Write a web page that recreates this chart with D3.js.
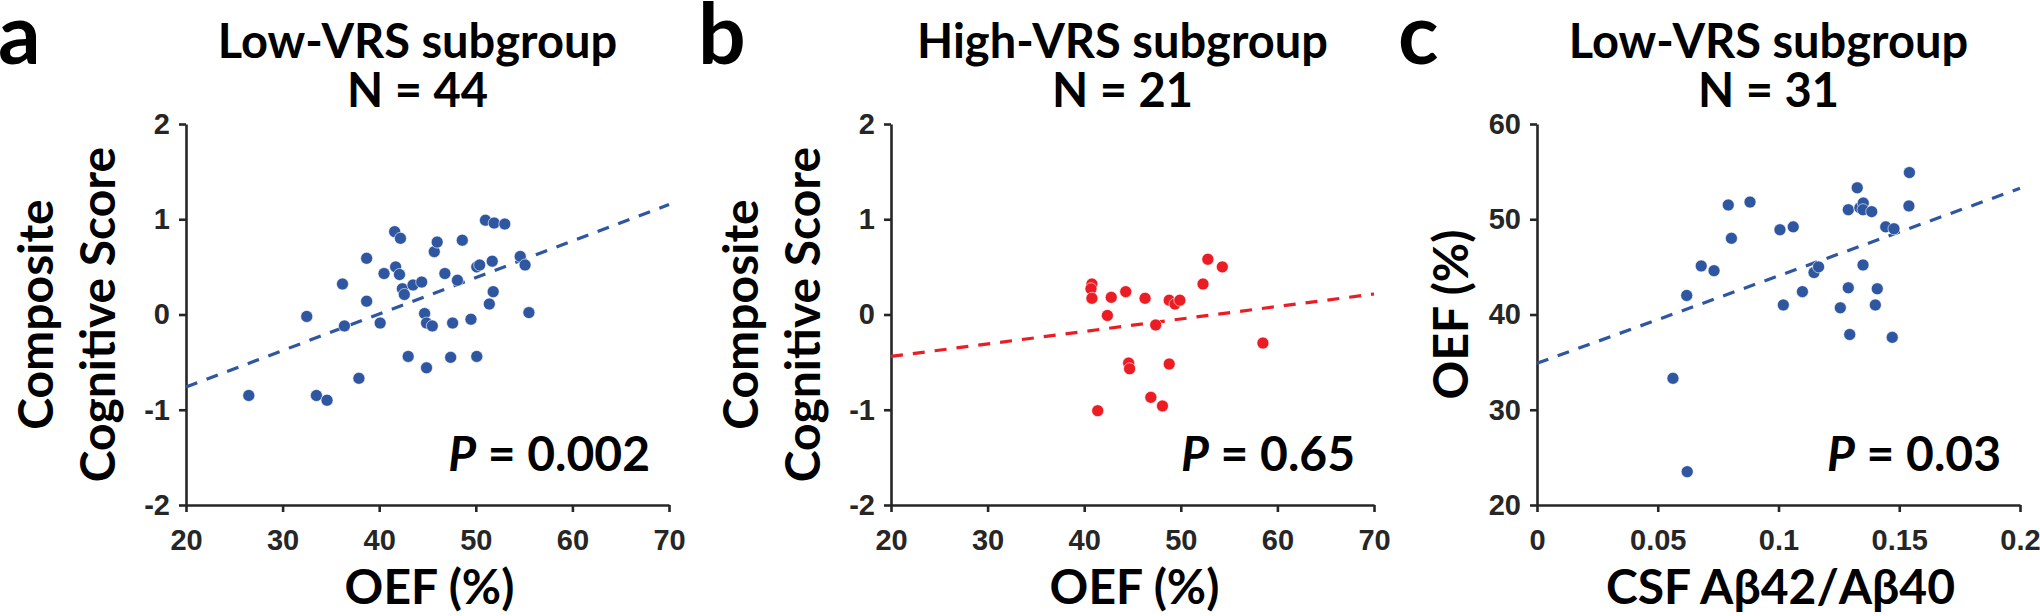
<!DOCTYPE html>
<html><head><meta charset="utf-8">
<script src="https://cdn.jsdelivr.net/npm/d3@7"></script>
<style>body{margin:0;background:#fff} svg{display:block}</style>
</head><body>
<svg id="chart" width="2040" height="616"></svg>
<script>
// ---------- data ----------
const oefA = [26.5,32.5,33.5,34.6,36.2,36.4,37.9,38.7,38.7,40.1,40.5,41.6,42.2,41.7,42.1,42.4,42.6,43.5,44.4,43.0,44.9,44.7,44.9,45.5,45.7,46.0,46.8,47.6,47.4,48.1,48.6,49.5,50.1,50.1,50.4,51.0,51.9,53.0,51.7,51.8,51.4,54.6,55.1,55.5];
const scoreA = [-0.85,-0.02,-0.85,-0.90,0.32,-0.12,-0.67,0.59,0.14,-0.09,0.43,0.87,0.80,0.50,0.42,0.27,0.21,0.31,0.34,-0.44,-0.56,0.01,-0.09,-0.12,0.66,0.76,0.43,-0.09,-0.45,0.36,0.78,-0.05,-0.44,0.50,0.52,0.99,0.96,0.95,0.56,0.24,0.11,0.61,0.52,0.02];
const oefB = [40.8,40.7,40.8,42.4,42.8,41.4,44.3,44.6,44.7,46.3,47.4,46.9,48.1,48.8,49.4,49.9,48.8,52.3,52.8,54.3,58.5];
const scoreB = [0.32,0.27,0.17,-0.01,0.18,-1.01,0.24,-0.51,-0.57,0.17,-0.11,-0.87,-0.96,0.15,0.11,0.15,-0.52,0.32,0.58,0.50,-0.30];
const csfC = [0.0563,0.0622,0.0620,0.0680,0.0733,0.0792,0.0805,0.0882,0.1006,0.1020,0.1061,0.1099,0.1147,0.1166,0.1256,0.1289,0.1289,0.1295,0.1326,0.1337,0.1351,0.1350,0.1350,0.1386,0.1409,0.1401,0.1444,0.1478,0.1471,0.1542,0.1540];
const oefC = [33.3,23.5,42.0,45.1,44.6,51.5,48.0,51.8,48.9,41.0,49.2,42.4,44.4,45.0,40.7,51.0,42.8,37.9,53.3,51.2,51.7,51.0,45.2,50.8,42.7,41.0,49.2,49.0,37.6,54.9,51.4];
const fitSlopes = [0.0383, 0.0131, 91.9];
const fitIntercepts = [-1.527, -0.702, 34.87];
const xTicksOEF = [20,30,40,50,60,70];
const yTicksScore = [-2,-1,0,1,2];
const xTicksCSF = [0,0.05,0.1,0.15,0.2];
const yTicksOEF = [20,30,40,50,60];
const panelLetters = ["a","b","c"];
const titles = ["Low-VRS subgroup","High-VRS subgroup","Low-VRS subgroup"];
const nLabels = ["N = 44","N = 21","N = 31"];
const pValues = ["0.002","0.65","0.03"];
const xTitles = ["OEF (%)","OEF (%)","CSF A\u03b242/A\u03b240"];
const yTitles = [["Composite","Cognitive Score"],["Composite","Cognitive Score"],["OEF (%)"]];

// ---------- layout ----------
const panels = [
  {ox:0,    left:186,  xs:oefA, ys:scoreA, xDom:[20,70], yDom:[-2,2], xT:xTicksOEF, yT:yTicksScore, color:"#2F56A0"},
  {ox:700,  left:891,  xs:oefB, ys:scoreB, xDom:[20,70], yDom:[-2,2], xT:xTicksOEF, yT:yTicksScore, color:"#EC1C24"},
  {ox:1400, left:1537, xs:csfC, ys:oefC,  xDom:[0,0.2], yDom:[20,60], xT:xTicksCSF, yT:yTicksOEF,  color:"#2F56A0"}
];
const W = 483, TOP = 124, BOT = 505;
const svg = d3.select("#chart");
const titleFont = "Lato, 'Open Sans', sans-serif";
const tickFont = "'Liberation Sans', Arial, sans-serif";

panels.forEach((p, i) => {
  const x = d3.scaleLinear().domain(p.xDom).range([p.left, p.left + W]);
  const y = d3.scaleLinear().domain(p.yDom).range([BOT, TOP]);
  const g = svg.append("g");

  // axes
  const ax = g.append("g").attr("transform", `translate(0,${BOT})`)
    .call(d3.axisBottom(x).tickValues(p.xT).tickFormat(d => String(d)).tickSizeInner(7).tickSizeOuter(0).tickPadding(17));
  const ay = g.append("g").attr("transform", `translate(${p.left},0)`)
    .call(d3.axisLeft(y).tickValues(p.yT).tickFormat(d => String(d)).tickSizeInner(7).tickSizeOuter(0).tickPadding(9));
  [ax, ay].forEach(a => {
    a.select(".domain").attr("stroke", "#262626").attr("stroke-width", 2.6);
    a.selectAll(".tick line").attr("stroke", "#262626").attr("stroke-width", 2.6);
    a.selectAll(".tick text").attr("fill", "#262626").attr("font-family", tickFont)
      .attr("font-weight", "bold").attr("font-size", 29);
  });

  // regression line
  const lx = p.xDom;
  g.append("line")
    .attr("x1", x(lx[0])).attr("y1", y(fitIntercepts[i] + fitSlopes[i] * lx[0]))
    .attr("x2", x(lx[1])).attr("y2", y(fitIntercepts[i] + fitSlopes[i] * lx[1]))
    .attr("stroke", p.color).attr("stroke-width", 3.2).attr("stroke-dasharray", "12,10");

  // points
  g.selectAll("circle.pt").data(p.xs.map((v, k) => [v, p.ys[k]])).join("circle")
    .attr("class", "pt").attr("cx", d => x(d[0])).attr("cy", d => y(d[1])).attr("r", 6)
    .attr("fill", p.color).attr("stroke", "#ffffff").attr("stroke-width", 0.6);

  // panel letter
  g.append("text").attr("x", p.ox - 2).attr("y", 64).text(panelLetters[i])
    .attr("font-family", titleFont).attr("font-weight", "bold").attr("font-size", 84).attr("fill", "#000");

  // title
  const cx = p.left + W / 2 - 10;
  g.append("text").attr("x", cx).attr("y", 58).attr("text-anchor", "middle").text(titles[i])
    .attr("font-family", titleFont).attr("font-weight", "bold").attr("font-size", 47).attr("fill", "#000");
  g.append("text").attr("x", cx).attr("y", 107).attr("text-anchor", "middle").text(nLabels[i])
    .attr("font-family", titleFont).attr("font-weight", "bold").attr("font-size", 47).attr("fill", "#000");

  // P value
  const pt = g.append("text").attr("x", p.left + W - 19).attr("y", 471).attr("text-anchor", "end")
    .attr("font-family", titleFont).attr("font-weight", "bold").attr("font-size", 48).attr("fill", "#000");
  pt.append("tspan").attr("font-style", "italic").text("P");
  pt.append("tspan").text(" = " + pValues[i]);

  // x title
  g.append("text").attr("x", p.left + W / 2 + 2).attr("y", 604).attr("text-anchor", "middle").text(xTitles[i])
    .attr("font-family", titleFont).attr("font-weight", "bold").attr("font-size", 48).attr("fill", "#000");

  // y title
  const yc = (TOP + BOT) / 2;
  const lines = yTitles[i];
  const offs = lines.length === 2 ? [-133, -71] : [-69];
  lines.forEach((t, k) => {
    g.append("text").attr("transform", `translate(${p.left + offs[k]},${yc}) rotate(-90)`)
      .attr("text-anchor", "middle").text(t)
      .attr("font-family", titleFont).attr("font-weight", "bold").attr("font-size", 48).attr("fill", "#000");
  });
});
</script>
</body></html>
